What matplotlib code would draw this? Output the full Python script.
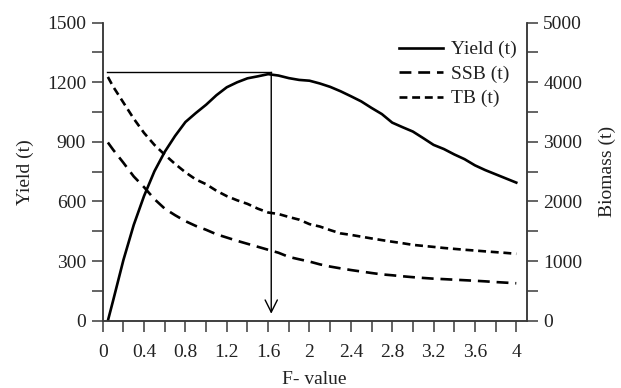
import numpy as np
import matplotlib
matplotlib.use('Agg')
import matplotlib.pyplot as plt
from matplotlib.ticker import MultipleLocator

plt.rcParams['font.family'] = ['Liberation Serif', 'DejaVu Serif']

# F values the curves were read at
f_value = [0.05, 0.1, 0.2, 0.3, 0.4, 0.5, 0.6, 0.7, 0.8, 0.9, 1.0,
           1.1, 1.2, 1.3, 1.4, 1.5, 1.6, 1.7, 1.8, 1.9, 2.0,
           2.1, 2.2, 2.3, 2.4, 2.5, 2.6, 2.7, 2.8, 2.9, 3.0,
           3.1, 3.2, 3.3, 3.4, 3.5, 3.6, 3.7, 3.8, 3.9, 4.0]

yield_t = [0, 100, 305, 482, 628, 752, 850, 930, 1000, 1045, 1087,
           1135, 1175, 1200, 1220, 1230, 1241, 1234, 1221, 1212, 1208,
           1194, 1177, 1155, 1130, 1104, 1071, 1040, 997, 974, 952,
           919, 885, 864, 837, 813, 782, 758, 737, 716, 695]

ssb_t = [2990, 2870, 2650, 2420, 2240, 2040, 1880, 1770, 1670, 1590, 1525,
         1450, 1395, 1340, 1290, 1240, 1190, 1140, 1070, 1030, 992,
         945, 908, 878, 850, 825, 800, 777, 762, 745, 730,
         717, 705, 697, 688, 679, 670, 660, 648, 638, 628]

tb_t = [4090, 3930, 3660, 3390, 3150, 2950, 2785, 2630, 2490, 2370, 2290,
        2180, 2090, 2020, 1960, 1880, 1815, 1790, 1740, 1695, 1620,
        1580, 1520, 1465, 1440, 1410, 1380, 1352, 1325, 1300, 1272,
        1255, 1238, 1220, 1205, 1190, 1177, 1163, 1150, 1137, 1122]

# maximum sustainable yield marker
msy = 1250
f_msy = 1.63

x_ticks = [0, 0.2, 0.4, 0.6, 0.8, 1.0, 1.2, 1.4, 1.6, 1.8, 2.0,
           2.2, 2.4, 2.6, 2.8, 3.0, 3.2, 3.4, 3.6, 3.8, 4.0]
x_labels = ['0', '', '0.4', '', '0.8', '', '1.2', '', '1.6', '', '2',
            '', '2.4', '', '2.8', '', '3.2', '', '3.6', '', '4']

ink = '#222222'
axcol = '#3a3a3a'
fs = 14

fig = plt.figure(figsize=(6.21, 3.88), dpi=100)
ax = fig.add_axes([0.1654, 0.1735, 0.848 - 0.1654, 0.9415 - 0.1735])
ax2 = ax.twinx()

l1, = ax.plot(f_value, yield_t, color='black', lw=1.9, label='Yield (t)')
l2, = ax2.plot(f_value, ssb_t, color='black', lw=1.9, dashes=(4.5, 2.6),
               label='SSB (t)')
l3, = ax2.plot(f_value, tb_t, color='black', lw=1.9, dashes=(3.0, 1.8),
               label='TB (t)')

# MSY lines
ax.plot([0.04, f_msy], [msy, msy], color='black', lw=1.0)
ax.annotate('', xy=(f_msy, 35), xytext=(f_msy, msy),
            arrowprops=dict(arrowstyle='->', color='black', lw=1.0,
                            mutation_scale=22, shrinkA=0, shrinkB=0))

ax.set_xlim(0, 4.1)
ax.set_ylim(0, 1500)
ax2.set_ylim(0, 5000)

ax.set_xticks(x_ticks)
ax.set_xticklabels(x_labels)
ax.yaxis.set_major_locator(MultipleLocator(300))
ax.yaxis.set_minor_locator(MultipleLocator(150))
ax2.yaxis.set_major_locator(MultipleLocator(1000))
ax2.yaxis.set_minor_locator(MultipleLocator(500))

for a in (ax, ax2):
    a.spines['top'].set_visible(False)
    for s in a.spines.values():
        s.set_color(axcol)
        s.set_linewidth(1.1)
    a.tick_params(which='both', direction='out', length=8, width=1.1,
                  color=axcol, labelsize=fs, labelcolor=ink)
ax.tick_params(axis='x', pad=9)
ax.tick_params(axis='y', pad=4)
ax2.tick_params(axis='y', pad=4)

ax.set_xlabel('F- value', fontsize=fs, color=ink, labelpad=7)
ax.set_ylabel('Yield (t)', fontsize=fs, color=ink, labelpad=9)
ax2.set_ylabel('Biomass (t)', fontsize=fs, color=ink, labelpad=12)

leg = ax.legend(handles=[l1, l2, l3], loc='upper right',
                bbox_to_anchor=(0.848, 0.92), bbox_transform=fig.transFigure,
                frameon=False, fontsize=fs, handlelength=2.3,
                handletextpad=0.4, labelspacing=0.35, borderpad=0)
for t in leg.get_texts():
    t.set_color(ink)

fig.savefig('out.png', dpi=100)
